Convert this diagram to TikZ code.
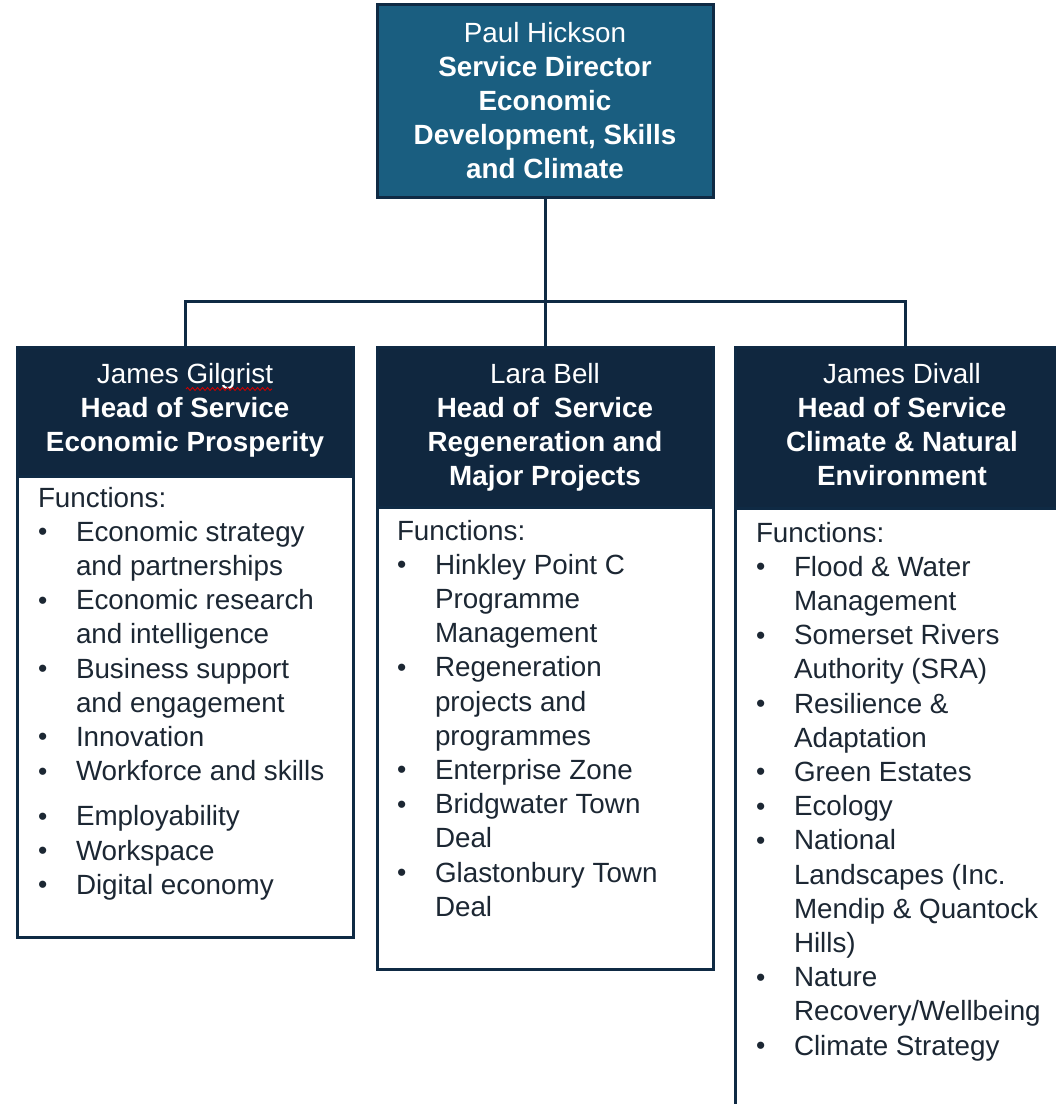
\documentclass[tikz,border=0pt]{standalone}
\usepackage{graphicx}
\usepackage{fontspec}
\setmainfont{Liberation Sans}
\usetikzlibrary{decorations.pathmorphing}
\definecolor{topfill}{HTML}{1A5E80}
\definecolor{navy}{HTML}{10273F}
\definecolor{edge}{HTML}{0F2A44}
\definecolor{bodytext}{HTML}{1C2733}
\newcommand\itm[1]{\makebox[38pt][l]{\raisebox{0.5pt}{\scalebox{0.95}{\textbullet}}}&#1}
\newcommand\cnt[1]{&#1}
\begin{document}
\begin{tikzpicture}[x=1pt,y=-1pt,
  every node/.style={font=\fontsize{27.8}{34.2}\selectfont, inner sep=0pt, outer sep=0pt},
  topbox/.style={draw=edge, line width=3pt, fill=topfill, anchor=north west},
  headbox/.style={draw=edge, line width=3pt, fill=navy, anchor=north west},
  bodybox/.style={draw=edge, line width=3pt, fill=white, anchor=north west},
  headtext/.style={anchor=base, text=white},
  listtext/.style={anchor=base west, text=bodytext},
  conn/.style={draw=edge, line width=3pt}]
\useasboundingbox (0,0) rectangle (1056,1104);
\fill[white] (0,0) rectangle (1056,1104);

% top box
\node[topbox, minimum width=336pt, minimum height=193pt] (top) at (377,4) {};
\node[headtext] (toptext) at (545,42) {\begin{tabular}[t]{@{}c@{}}Paul Hickson\\ \textbf{Service Director}\\ \textbf{Economic}\\ \textbf{Development, Skills}\\ \textbf{and Climate}\end{tabular}};

% column A
\node[headbox, minimum width=336pt, minimum height=129pt] (hA) at (17,347) {};
\node[bodybox, minimum width=336pt, minimum height=461pt] (bA) at (17,476) {};
\node[headtext] (hAtext) at (185,383) {\begin{tabular}[t]{@{}c@{}}James Gilgrist\\ \textbf{Head of Service}\\ \textbf{Economic Prosperity}\end{tabular}};
\node[listtext] (lA) at (38,507) {\begin{tabular}[t]{@{}l@{}l@{}}
\multicolumn{2}{@{}l@{}}{Functions:}\\
\itm{Economic strategy}\\ \cnt{and partnerships}\\
\itm{Economic research}\\ \cnt{and intelligence}\\
\itm{Business support}\\ \cnt{and engagement}\\
\itm{Innovation}\\
\itm{Workforce and skills}\\[11pt]
\itm{Employability}\\
\itm{Workspace}\\
\itm{Digital economy}
\end{tabular}};

% column B
\node[headbox, minimum width=336pt, minimum height=160pt] (hB) at (377,347) {};
\node[bodybox, minimum width=336pt, minimum height=462pt] (bB) at (377,507) {};
\node[headtext] (hBtext) at (545,383) {\begin{tabular}[t]{@{}c@{}}Lara Bell\\ \textbf{Head of\ \ Service}\\ \textbf{Regeneration and}\\ \textbf{Major Projects}\end{tabular}};
\node[listtext] (lB) at (397,540) {\begin{tabular}[t]{@{}l@{}l@{}}
\multicolumn{2}{@{}l@{}}{Functions:}\\
\itm{Hinkley Point C}\\ \cnt{Programme}\\ \cnt{Management}\\
\itm{Regeneration}\\ \cnt{projects and}\\ \cnt{programmes}\\
\itm{Enterprise Zone}\\
\itm{Bridgwater Town}\\ \cnt{Deal}\\
\itm{Glastonbury Town}\\ \cnt{Deal}
\end{tabular}};

% column C
\node[headbox, minimum width=340pt, minimum height=161pt] (hC) at (735,347) {};
\node[bodybox, minimum width=340pt, minimum height=620pt] (bC) at (735,508) {};
\node[headtext] (hCtext) at (902,383) {\begin{tabular}[t]{@{}c@{}}James Divall\\ \textbf{Head of Service}\\ \textbf{Climate \& Natural}\\ \textbf{Environment}\end{tabular}};
\node[listtext] (lC) at (756,542) {\begin{tabular}[t]{@{}l@{}l@{}}
\multicolumn{2}{@{}l@{}}{Functions:}\\
\itm{Flood \& Water}\\ \cnt{Management}\\
\itm{Somerset Rivers}\\ \cnt{Authority (SRA)}\\
\itm{Resilience \&}\\ \cnt{Adaptation}\\
\itm{Green Estates}\\
\itm{Ecology}\\
\itm{National}\\ \cnt{Landscapes (Inc.}\\ \cnt{Mendip \& Quantock}\\ \cnt{Hills)}\\
\itm{Nature}\\ \cnt{Recovery/Wellbeing}\\
\itm{Climate Strategy}
\end{tabular}};

% spell-check underline
\draw[red!80!black, line width=0.9pt, decorate, decoration={snake, amplitude=1.5pt, segment length=5pt}] (186,389) -- (272,389);

% connectors
\draw[conn] (top.south) -- (hB.north);
\draw[conn] (hA.north) -- ++(0,-46) -| (hC.north);
\end{tikzpicture}
\end{document}
